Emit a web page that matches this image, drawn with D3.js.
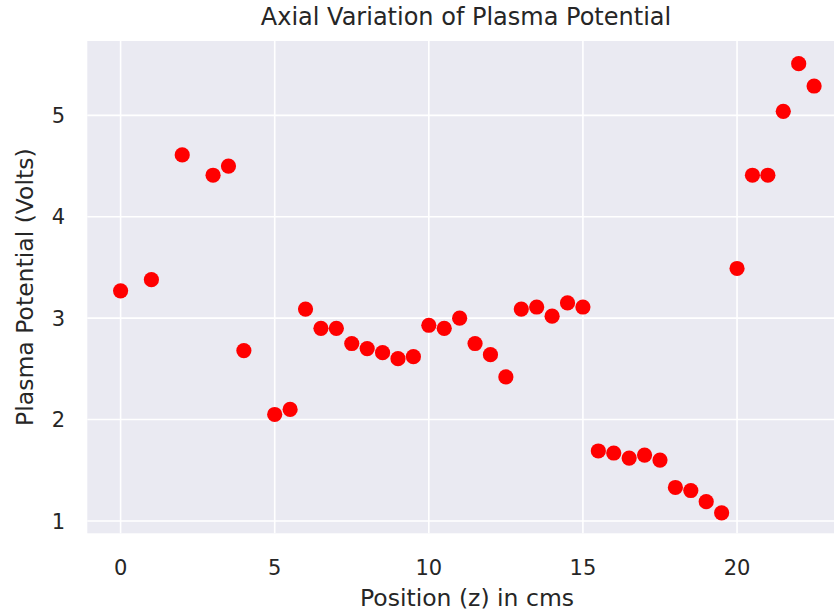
<!DOCTYPE html>
<html lang="en">
<head>
    <meta charset="UTF-8">
    <title>Axial Variation of Plasma Potential</title>
    <script src="https://d3js.org/d3.v7.min.js"></script>
    <style>
        body { margin: 0; background: #ffffff; }
        #chart { width: 834px; height: 614px; overflow: hidden; }
        text { font-family: "DejaVu Sans", sans-serif; fill: #262626; }
    </style>
</head>
<body>
    <div id="chart"></div>

    <script>
        // Measured positions (cm) and plasma potential (V)
        var positions = [0, 1, 2, 3, 3.5, 4, 5, 5.5, 6, 6.5, 7, 7.5, 8, 8.5, 9, 9.5,
                         10, 10.5, 11, 11.5, 12, 12.5, 13, 13.5, 14, 14.5, 15, 15.5,
                         16, 16.5, 17, 17.5, 18, 18.5, 19, 19.5, 20, 20.5, 21, 21.5, 22, 22.5];
        var potentials = [3.27, 3.38, 4.61, 4.41, 4.50, 2.68, 2.05, 2.10, 3.09, 2.90, 2.90, 2.75,
                          2.70, 2.66, 2.60, 2.62, 2.93, 2.90, 3.00, 2.75, 2.64, 2.42, 3.09, 3.11,
                          3.02, 3.15, 3.11, 1.69, 1.67, 1.62, 1.65, 1.60, 1.33, 1.30, 1.19, 1.08,
                          3.49, 4.41, 4.41, 5.04, 5.51, 5.29];
        var xTicks = [0, 5, 10, 15, 20];
        var yTicks = [1, 2, 3, 4, 5];

        var width = 834, height = 614;
        var plot = { left: 87.3, right: 848, top: 41, bottom: 533.3 };

        var x = d3.scaleLinear().domain([-1.08, 23.6]).range([plot.left, plot.right]);
        var y = d3.scaleLinear().domain([0.878, 5.734]).range([plot.bottom, plot.top]);

        var svg = d3.select("#chart")
                    .append("svg")
                    .attr("width", width)
                    .attr("height", height);

        // Axes background
        svg.append("rect")
           .attr("x", plot.left)
           .attr("y", plot.top)
           .attr("width", plot.right - plot.left)
           .attr("height", plot.bottom - plot.top)
           .attr("fill", "#eaeaf2");

        // Grid lines
        svg.selectAll("line.xgrid")
           .data(xTicks)
           .enter()
           .append("line")
           .attr("class", "xgrid")
           .attr("x1", function(d) { return x(d); })
           .attr("x2", function(d) { return x(d); })
           .attr("y1", plot.top)
           .attr("y2", plot.bottom)
           .attr("stroke", "#ffffff")
           .attr("stroke-width", 1.6);

        svg.selectAll("line.ygrid")
           .data(yTicks)
           .enter()
           .append("line")
           .attr("class", "ygrid")
           .attr("x1", plot.left)
           .attr("x2", plot.right)
           .attr("y1", function(d) { return y(d); })
           .attr("y2", function(d) { return y(d); })
           .attr("stroke", "#ffffff")
           .attr("stroke-width", 1.6);

        // Tick labels
        svg.selectAll("text.xtick")
           .data(xTicks)
           .enter()
           .append("text")
           .attr("class", "xtick")
           .attr("x", function(d) { return x(d); })
           .attr("y", 574.5)
           .attr("text-anchor", "middle")
           .style("font-size", "21px")
           .text(function(d) { return d; });

        svg.selectAll("text.ytick")
           .data(yTicks)
           .enter()
           .append("text")
           .attr("class", "ytick")
           .attr("x", 65)
           .attr("y", function(d) { return y(d) + 7.6; })
           .attr("text-anchor", "end")
           .style("font-size", "21px")
           .text(function(d) { return d; });

        // Points
        svg.selectAll("circle")
           .data(positions)
           .enter()
           .append("circle")
           .attr("cx", function(d) { return x(d); })
           .attr("cy", function(d, i) { return y(potentials[i]); })
           .attr("r", 7.6)
           .attr("fill", "#ff0000");

        // Title and axis labels
        svg.append("text")
           .attr("x", 466)
           .attr("y", 24.5)
           .attr("text-anchor", "middle")
           .style("font-size", "24px")
           .text("Axial Variation of Plasma Potential");

        svg.append("text")
           .attr("x", 467)
           .attr("y", 606)
           .attr("text-anchor", "middle")
           .style("font-size", "23.5px")
           .text("Position (z) in cms");

        svg.append("text")
           .attr("transform", "translate(33," + ((plot.top + plot.bottom) / 2) + ") rotate(-90)")
           .attr("text-anchor", "middle")
           .style("font-size", "23.5px")
           .text("Plasma Potential (Volts)");
    </script>
</body>
</html>
